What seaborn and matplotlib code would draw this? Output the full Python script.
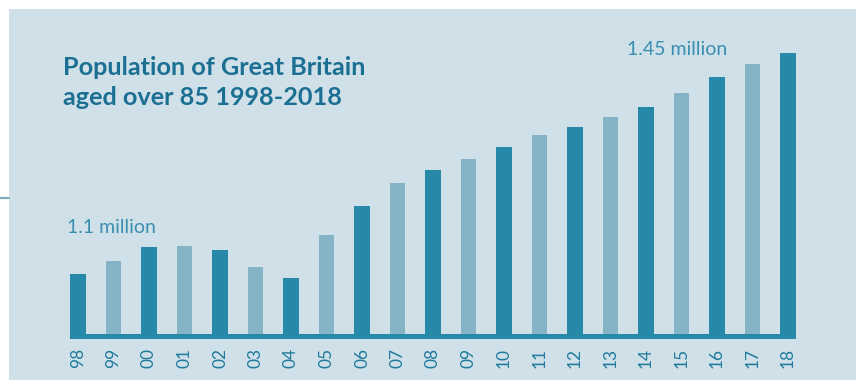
import matplotlib
matplotlib.use("Agg")
import matplotlib.pyplot as plt
from matplotlib.patches import Rectangle
from matplotlib.lines import Line2D
import seaborn as sns
import pandas as pd

# ---- data (millions) ----
years = ["98", "99", "00", "01", "02", "03", "04", "05", "06", "07", "08",
         "09", "10", "11", "12", "13", "14", "15", "16", "17", "18"]
population = [1.096, 1.117, 1.139, 1.141, 1.135, 1.107, 1.090, 1.159, 1.205,
              1.242, 1.263, 1.281, 1.299, 1.319, 1.332, 1.348, 1.364, 1.386,
              1.412, 1.432, 1.450]
title_lines = ["Population of Great Britain", "aged over 85 1998-2018"]
first_label = "1.1 million"
last_label = "1.45 million"

# ---- styles ----
PANEL = "#cfe0e8"
DARK = "#2789a8"
LIGHT = "#86b4c7"
TITLE_C = "#1b6f92"
NOTE_C = "#3a8fb0"
TICK_C = "#1f7a9c"
FONT = ["Lato", "DejaVu Sans"]

sns.set_theme(style="white")
plt.rcParams["font.family"] = FONT

W, H = 856, 380
fig = plt.figure(figsize=(W / 100, H / 100), dpi=100)
fig.patch.set_facecolor("white")
fig.add_artist(Rectangle((9 / W, 0), 1, (H - 9) / H, transform=fig.transFigure,
                         facecolor=PANEL, edgecolor="none", zorder=0))
fig.add_artist(Line2D([0, 9 / W], [1 - 198 / H, 1 - 198 / H], transform=fig.transFigure,
                      color="#7ea9bf", lw=1.6, zorder=1))

# axes bottom at band bottom (pixel 339)
ax = fig.add_axes([0, (H - 339) / H, 1, 339 / H])
ax.set_facecolor("none")
ax.patch.set_alpha(0)

df = pd.DataFrame({"year": years, "pop": population})
colors = [DARK if i % 2 == 0 else LIGHT for i in range(len(years))]
bw = 0.45
sns.barplot(data=df, x="year", y="pop", hue="year", order=years, hue_order=years,
            palette=colors, legend=False, width=bw, saturation=1, ax=ax,
            edgecolor="none", linewidth=0)

step = 35.5
x0 = 78
ax.set_xlim(-x0 / step, (W - x0) / step)
scale = 0.45 / 281  # millions per pixel
base = 1.0
ax.set_ylim(base - 5 * scale, base + 334 * scale)

# baseline band
n = len(years)
ax.fill_between([-bw / 2, n - 1 + bw / 2], base - 5 * scale, base, color=DARK,
                linewidth=0, zorder=3)

for s in ax.spines.values():
    s.set_visible(False)
ax.set_xlabel("")
ax.set_ylabel("")
ax.set_yticks([])
ax.tick_params(axis="x", length=0, pad=6.5, labelsize=12.5, labelcolor=TICK_C,
               labelrotation=90)

# annotations
ax.annotate(first_label, xy=(0, population[0]), xytext=(-8, 29.5),
            textcoords="offset points", ha="left", va="baseline",
            fontsize=14, color=NOTE_C)
ax.annotate(last_label, xy=(n - 1, population[-1]), xytext=(-44, -1.4),
            textcoords="offset points", ha="right", va="baseline",
            fontsize=14, color=NOTE_C)

# title
fig.text(63 / W, 1 - 75 / H, title_lines[0], ha="left", va="baseline",
         fontsize=18.2, fontweight="bold", color=TITLE_C)
fig.text(63 / W, 1 - 105 / H, title_lines[1], ha="left", va="baseline",
         fontsize=18.2, fontweight="bold", color=TITLE_C)

fig.savefig("out.png", dpi=100, facecolor="white")
